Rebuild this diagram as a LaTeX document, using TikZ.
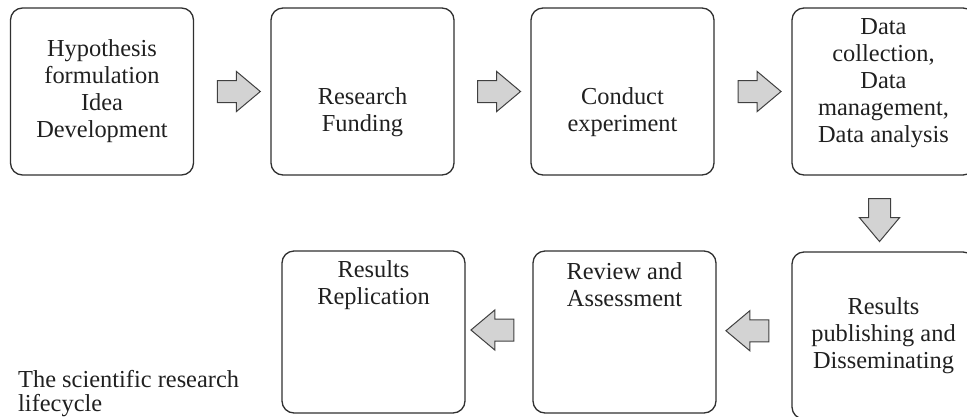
\documentclass[tikz,border=0pt]{standalone}
\usepackage{fontspec}
\setmainfont{Liberation Serif}
\usetikzlibrary{shapes.arrows,calc}
\definecolor{boxline}{HTML}{303030}
\definecolor{arrowfill}{HTML}{D3D3D3}
\definecolor{arrowline}{HTML}{404040}
\definecolor{txtcol}{HTML}{202020}
\begin{document}
\begin{tikzpicture}[x=1pt,y=-1pt,
  stage/.style={draw=boxline, line width=1.3pt, rounded corners=12pt, inner sep=0pt, minimum width=183pt},
  lbl/.style={align=center, inner sep=0pt, text=txtcol, font=\fontsize{24.4}{27}\selectfont},
  blockarrow/.style={single arrow, draw=arrowline, fill=arrowfill, line width=1pt, inner sep=10.5pt,
    minimum height=43pt, single arrow head extend=9pt, single arrow tip angle=80}]
\clip (0,0) rectangle (967,416);
% boxes
\node[stage, minimum height=167pt] (b1) at (102,91.5) {};
\node[stage, minimum height=167pt] (b2) at (362.5,91.5) {};
\node[stage, minimum height=167pt] (b3) at (622.5,91.5) {};
\node[stage, minimum height=167pt] (b4) at (883.5,91.5) {};
\node[stage, minimum height=162pt] (b5) at (373.5,332) {};
\node[stage, minimum height=162pt] (b6) at (624.5,332) {};
\node[stage, minimum height=167pt] (b7) at (883.5,335.5) {};
% texts
\node[lbl] (t1) at ($(b1.center)+(0,0)$) {Hypothesis\\formulation\\Idea\\Development};
\node[lbl] (t2) at ($(b2.center)+(0,21)$) {Research\\Funding};
\node[lbl] (t3) at ($(b3.center)+(0,21)$) {Conduct\\experiment};
\node[lbl] (t4) at ($(b4.center)+(0,-8)$) {Data\\collection,\\Data\\management,\\Data analysis};
\node[lbl] (t5) at ($(b5.center)+(0,-47)$) {Results\\Replication};
\node[lbl] (t6) at ($(b6.center)+(0,-47)$) {Review and\\Assessment};
\node[lbl] (t7) at ($(b7.center)+(0,0)$) {Results\\publishing and\\Disseminating};
% arrows
\node[blockarrow] (a1) at ($(b1.east)!0.5!(b2.west)$) {};
\node[blockarrow] (a2) at ($(b2.east)!0.5!(b3.west)$) {};
\node[blockarrow] (a3) at ($(b3.east)!0.5!(b4.west)$) {};
\node[blockarrow, shape border rotate=270] (a4) at ($(b4.south)!0.5!(b7.north)+(-4,0)$) {};
\node[blockarrow, shape border rotate=180] (a5) at ($(b7.west)!0.5!(b6.east)+(0,-3)$) {};
\node[blockarrow, shape border rotate=180] (a6) at ($(b6.west)!0.5!(b5.east)+(0,-2)$) {};
% caption
\node[anchor=north west, align=left, inner sep=0pt, text=txtcol, font=\fontsize{24.4}{24}\selectfont] (cap) at (18,370) {The scientific research\\lifecycle};
\end{tikzpicture}
\end{document}
